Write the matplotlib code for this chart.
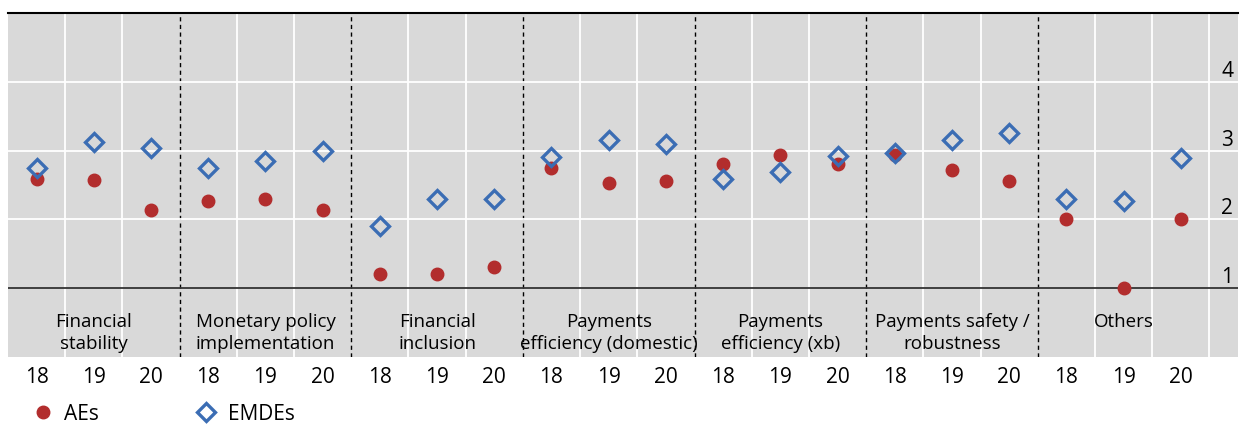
import matplotlib
matplotlib.use("Agg")
import matplotlib.pyplot as plt
from matplotlib.lines import Line2D
from matplotlib.transforms import ScaledTranslation

plt.rcParams['font.family'] = ['Open Sans', 'DejaVu Sans']

categories = ["Financial\nstability", "Monetary policy\nimplementation", "Financial\ninclusion",
              "Payments\nefficiency (domestic)", "Payments\nefficiency (xb)",
              "Payments safety /\nrobustness", "Others"]
years = ["18", "19", "20"]

aes = [2.59, 2.57, 2.13,
       2.27, 2.29, 2.13,
       1.21, 1.21, 1.31,
       2.75, 2.53, 2.56,
       2.80, 2.93, 2.81,
       2.94, 2.72, 2.56,
       2.00, 1.00, 2.00]
emdes = [2.75, 3.12, 3.04,
         2.75, 2.85, 3.00,
         1.90, 2.30, 2.30,
         2.90, 3.15, 3.09,
         2.58, 2.69, 2.92,
         2.96, 3.15, 3.26,
         2.29, 2.27, 2.89]

RED = "#B22D2D"
BLUE = "#3B6DB4"
GREY = "#D9D9D9"

fig = plt.figure(figsize=(12.41, 4.25), dpi=100)
ax = fig.add_axes([8/1241, 68/425, 1230/1241, 344/425])
ax.set_facecolor(GREY)

n = len(aes)
x = list(range(n))
ax.set_xlim(-0.5, 21.0)
ax.set_ylim(0, 5)

# gridlines
for k in range(n):
    xv = k + 0.5
    if (k + 1) % 3 == 0 and k + 1 < n:
        ax.axvline(xv, color="black", lw=1.0, ls=(0, (3, 2.5)), zorder=1)
    else:
        ax.axvline(xv, color="white", lw=1.3, zorder=1)
for yv in [2, 3, 4]:
    ax.axhline(yv, color="white", lw=1.3, zorder=1)
ax.axhline(1, color="#333333", lw=1.3, zorder=2)

ax.plot(x, aes, ls="none", marker="o", ms=9, color=RED, mec=RED, zorder=3, label="AEs")
ax.plot(x, emdes, ls="none", marker="D", ms=9.5, mfc="none", mec=BLUE, mew=2.4, zorder=4, label="EMDEs")

for spine in ["left", "bottom", "right"]:
    ax.spines[spine].set_visible(False)
ax.spines["top"].set_color("black")
ax.spines["top"].set_linewidth(1.5)

ax.set_xticks(x)
ax.set_xticklabels(years * len(categories), fontsize=15)
ax.tick_params(axis="x", length=0, pad=7.5)

ax.yaxis.tick_right()
ax.set_yticks([1, 2, 3, 4])
ax.set_yticklabels(["1", "2", "3", "4"], fontsize=15)
ax.tick_params(axis="y", length=0, pad=-12)
for lab in ax.get_yticklabels():
    lab.set_transform(lab.get_transform() + ScaledTranslation(0, 0.13, fig.dpi_scale_trans))

for i, c in enumerate(categories):
    ax.text(3 * i + 1, 0.64, c, ha="center", va="top", fontsize=13.5, linespacing=1.27, zorder=5)

handles = [Line2D([], [], ls="none", marker="o", ms=9, color=RED),
           Line2D([], [], ls="none", marker="D", ms=9.5, mfc="none", mec=BLUE, mew=2.4)]
fig.legend(handles, ["AEs", "EMDEs"], loc="center left", bbox_to_anchor=(27/1241, 1 - 414/425),
           ncol=2, frameon=False, fontsize=15, handlelength=1.5, handletextpad=0.3,
           columnspacing=4.35, borderaxespad=0, borderpad=0)

fig.savefig("out.png", dpi=100)
